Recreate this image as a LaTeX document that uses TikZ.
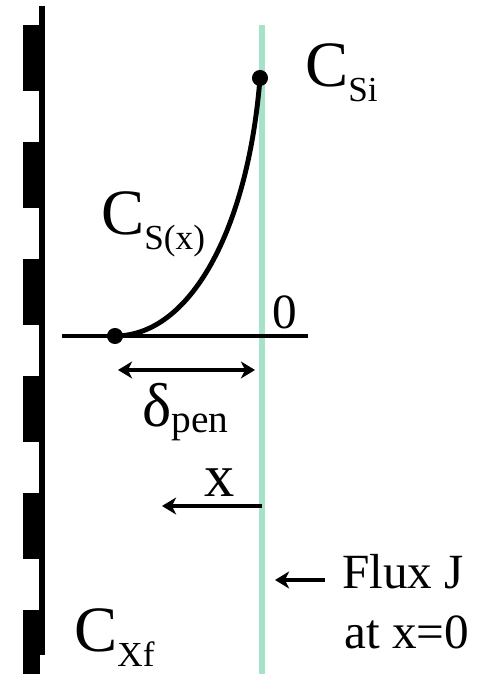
\documentclass[tikz,border=0pt]{standalone}
\usepackage{fontspec}
\newfontfamily\libser{Liberation Serif}
\usetikzlibrary{arrows.meta}
\definecolor{surfgreen}{RGB}{166,226,200}
\newcommand{\conc}[1]{C\raisebox{-10.5pt}{\fontsize{25}{25}\selectfont #1}}

\begin{document}
\begin{tikzpicture}[
    x=0.025cm, y=0.025cm,
    every node/.style={inner sep=0pt, anchor=base west},
    >={Stealth[length=10pt, width=12pt, inset=3pt]},
    bigtxt/.style={font=\libser\fontsize{46}{50}\selectfont},
    midtxt/.style={font=\libser\fontsize{35}{40}\selectfont},
    dot/.style={circle, fill=black, minimum size=11.4pt, anchor=center},
    arr/.style={line width=3.5pt},
]
\useasboundingbox (0,0) rectangle (488,674);

% === Solid side (left) ===
\draw[line width=4pt] (42,668) -- (42,19);
\foreach \y in {649,532,415,298,181,64}
    \fill (23,\y) rectangle (40,\y-66);

% === Surface ===
\draw[surfgreen, line width=4.3pt] (262,649) -- (262,0);

% === Axis at C = 0 ===
\coordinate (axl) at (62,338);
\coordinate (axr) at (308,338);
\draw[line width=3.5pt] (axl) -- (axr);
\node[midtxt] (zero) at (272,345) {0};

% === Concentration profile ===
\node[dot] (ptop) at (260,596) {};
\node[dot] (pbot) at (115,338) {};
\draw[line width=3.5pt] (ptop.center) .. controls (248,444) and (190,338) .. (pbot.center);
\node[bigtxt] (lblsi) at (305,587) {\conc{Si}};
\node[bigtxt] (lblsx) at (101,439) {\conc{S(x)}};
\node[bigtxt] (lblxf) at (74,22) {\conc{Xf}};

% === Penetration depth ===
\coordinate (dl) at (118,304);
\coordinate (dr) at (255,304);
\draw[<->, arr] (dl) -- (dr);
\node[font=\libser\fontsize{44}{48}\selectfont] (delta) at (142,247)
    {δ\raisebox{-4pt}{\fontsize{28}{28}\selectfont pen}};

% === x direction ===
\coordinate (xs) at (262,168);
\coordinate (xe) at (162,168);
\draw[->, arr] (xs) -- (xe);
\node[font=\libser\fontsize{43}{48}\selectfont] (xlbl) at (204,177) {x};

% === Flux at surface ===
\coordinate (fs) at (325,94);
\coordinate (fe) at (275,94);
\draw[->, arr] (fs) -- (fe);
\node[midtxt] (flux) at (342,85) {Flux J};
\node[midtxt] (fluxat) at (344,25) {at x=0};

\end{tikzpicture}
\end{document}
